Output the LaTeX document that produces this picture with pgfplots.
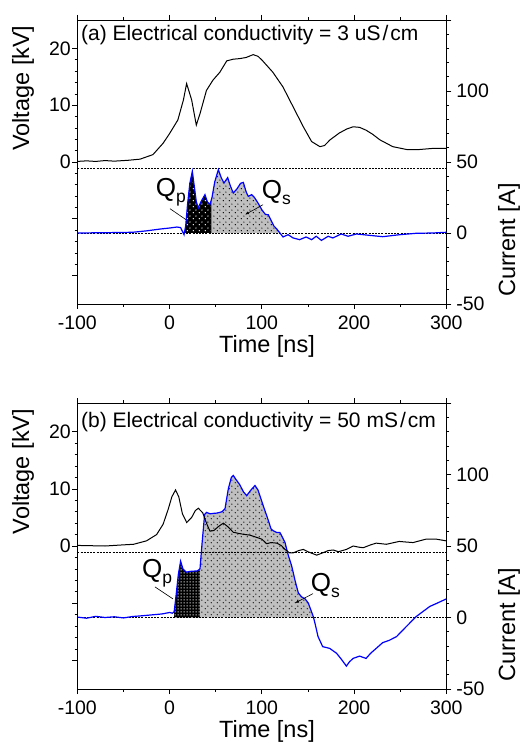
\documentclass[border=0pt]{standalone}
\usepackage{fontspec}
\setmainfont{Liberation Sans}
\usepackage{pgfplots}
\usepackage{pgfplotstable}
\pgfplotsset{compat=1.18}
\usepgfplotslibrary{fillbetween}
\usetikzlibrary{patterns.meta, arrows.meta}

% staggered dots (grey areas, panel a black area)
\tikzdeclarepattern{name=sdots, type=uncolored,
  bounding box={(0pt,0pt) and (6pt,6pt)}, tile size={(6pt,6pt)},
  code={\fill (1.5pt,1.5pt) circle (0.75pt); \fill (4.5pt,4.5pt) circle (0.75pt);}}
% dense square dots (panel b black area)
\tikzdeclarepattern{name=gdots, type=uncolored,
  bounding box={(0pt,0pt) and (3pt,3pt)}, tile size={(3pt,3pt)},
  code={\fill (0.8pt,0.8pt) rectangle (2.2pt,2.2pt);}}

% panel (a): voltage [kV] and current [A] vs time [ns]
\pgfplotstableread{
t v
-100 0.1
-90 0.2
-80 0.1
-70 0.25
-60 0.15
-45 0.3
-32 0.5
-18 1.3
-7 3.3
0 5.0
9 7.4
15 10.9
18.5 13.8
21 12.5
24 10.9
29 6.5
33 8.5
40 12.6
47 14.4
54.5 15.8
62 17.8
69 18.1
76 18.2
83 18.4
90.6 18.9
96 18.6
101 17.8
112 15.8
123 13.2
134 9.7
145 6.2
154 3.6
163 2.7
168 2.9
174 3.9
184 5.1
192 5.8
199 6.2
206 6.1
213 5.6
220 4.9
228 3.9
242 2.7
257 2.2
271 2.2
286 2.4
300 2.4
}\volA

\pgfplotstableread{
t i
-100 0
-70 0.2
-40 0.5
-25 1.5
-10 2.8
0 3.5
8 4.2
12 3.8
15.7 -1.2
17.5 5
19.5 20
22 35
24.7 43.4
27 32
29 22
31.2 17.6
34 22
38.4 27
41 22
43.8 20
46 25
49 36
52.9 44.6
56 39
59 35.2
63 39
66 33
69.1 28.2
73 31
77 35
80 35.6
83 29
85.4 25.8
89 27
92 25
96 21
100 16.4
104 13
107 12.9
110 9
113 5
116 3
119.7 0
123 -2.8
128.5 -1.2
134 -3.5
141 -4.7
148 -2.8
154 -4.7
159 -2.3
164.6 -5.2
172 -2.3
177 -3.5
186 -0.7
193.5 -2.3
202.5 -0.7
213 -1.4
231 -2.6
249.5 -1.2
267.5 -0.2
285.5 0
300 0.5
}\curA

% panel (b)
\pgfplotstableread{
t v
-100 0.1
-70 0.0
-50 0.2
-39 0.3
-25 0.9
-14 2.0
-7 3.8
-1.5 6.4
2.5 8.6
6.5 9.8
10 8.6
14 5.6
18.6 4.1
24 5.0
28 6.2
31.2 6.6
36 5.8
40 4.0
43.8 2.6
48 2.7
53 3.4
58.3 4.0
63 3.4
69.1 2.4
75 2.2
80 2.05
87 1.9
94.5 1.5
100 1.2
105.3 0.4
110 0.6
116.2 0.5
121 0.1
125.2 -0.6
130 -1.2
134 -1.2
140 -0.8
145 -0.6
150 -1.0
159.5 -1.6
166 -1.2
172 -0.8
177.5 -0.7
183 -1.0
191.7 -0.6
199 0
205 -0.2
210 -0.3
218 0.2
224 0.5
235 0.3
249 0.8
256 0.7
264 0.6
278 1.2
289 1.2
300 0.9
}\volB

\pgfplotstableread{
t i
-100 0.3
-90 -0.5
-80 0.8
-70 0
-60 0.5
-50 -0.3
-40 0.7
-30 1.2
-18 1.9
-8 2.5
0 3.5
3 3
5 4
7 15
9.5 30
12 39.4
14.5 34
18 31.7
24 32.4
30 32.5
33 34
35 50
38 72
40 73.5
44 72.5
47.3 72.8
51 73
54.5 73.5
57 74
60.1 76
63.7 90
67 98
69.1 99.3
72 96.5
76 93
80 88
83.6 85.2
88 89
92.6 92.3
96 89
101.6 78
106 70
110 62
112.5 60.6
116 59.5
119.7 59.4
125.2 52.4
128.5 44
132.4 36
136 26
139.6 17.2
143 14.5
147 13
150.4 10.1
155.8 0.7
158 -5
161 -13.4
166 -20.4
170 -21
173.6 -21.6
181 -25
186 -29
191.7 -34
195 -31
199 -28.6
206 -27
213 -28.6
218 -25
224 -21.6
231 -17.6
238 -16
246 -13.4
256.7 -6.3
267.5 0.7
282 7.7
290 10
300 13
}\curB

\pgfplotsset{
  base/.style={
    scale only axis, width=369pt, anchor=south west,
    xmin=-100, xmax=300,
    tick align=outside, major tick length=5pt, minor tick length=2.8pt,
    every tick/.style={black, line width=0.6pt},
    axis line style={line width=0.8pt},
    tick label style={font=\fontsize{19.5}{19.5}\selectfont},
    label style={font=\fontsize{23.5}{23.5}\selectfont},
    /pgf/number format/assume math mode=true,
  },
  vax/.style={base,
    ymin=-25, ymax=25,
    ytick={-20,-10,0,10,20}, yticklabels={,,0,10,20},
    minor y tick num=4,
    xtick={-100,0,100,200,300}, minor x tick num=1,
    axis y line*=left,
    yticklabel style={xshift=2pt},
    xticklabel style={yshift=-3.5pt},
    xlabel={Time [ns]}, ylabel={Voltage [kV]},
    ylabel style={at={(axis description cs:-0.147,0.76)}, anchor=center},
  },
  iax/.style={base,
    ymin=-50, ymax=150,
    ytick={-50,0,50,100,150}, yticklabels={-50,0,50,100,},
    minor y tick num=4,
    axis x line=none, axis y line*=right,
    yticklabel style={xshift=1.5pt},
    ylabel={Current [A]},
    ylabel style={at={(axis description cs:1.17,0.225)}, anchor=center},
  },
}
\tikzset{qlab/.style={anchor=base west, inner sep=0pt, font=\fontsize{26}{26}\selectfont}}
\newcommand{\sub}[1]{\raisebox{-6pt}{\fontsize{17.5}{17.5}\selectfont #1}}

\begin{document}
\begin{tikzpicture}

% ---------- panel (a) ----------
\begin{axis}[iax, at={(77.3pt,438pt)}, height=284pt]
  \addplot[draw=none, name path=za, forget plot] coordinates {(-100,0) (300,0)};
  \addplot[draw=none, name path=ia, forget plot] table {\curA};
  \addplot[fill=black, draw=none] fill between[of=ia and za, soft clip={domain=17:45.7}];
  \addplot[pattern=sdots, pattern color=white, draw=none] fill between[of=ia and za, soft clip={domain=17:45.7}];
  \addplot[fill=gray!50, draw=none] fill between[of=ia and za, soft clip={domain=45.7:119.7}];
  \addplot[pattern=sdots, pattern color=black, draw=none] fill between[of=ia and za, soft clip={domain=45.7:119.7}];
  \addplot[black, line width=0.5pt, dash pattern=on 2pt off 1.2pt] coordinates {(-100,0) (300,0)};
  \addplot[black, line width=0.5pt, dash pattern=on 2pt off 1.2pt] coordinates {(-100,45.5) (300,45.5)};
  \addplot[blue, line width=1.2pt] table {\curA};
  \node[qlab] at (axis cs:-15,25.8) {Q\sub{p}};
  \draw[line width=0.6pt] (axis cs:0.5,17.1) -- (axis cs:17.8,9.4);
  \node[qlab] at (axis cs:99.9,24.6) {Q\sub{s}};
  \draw[line width=0.6pt, -{Latex[length=4pt,width=3pt]}] (axis cs:101.3,19.9) -- (axis cs:81.8,12.9);
\end{axis}
\begin{axis}[vax, at={(77.3pt,438pt)}, height=284pt,
    xlabel style={at={(axis description cs:0.514,-0.151)}, anchor=center}]
  \addplot[black, line width=1pt] table {\volA};
  \node[anchor=west, inner sep=0pt, font=\fontsize{21}{21}\selectfont]
    at (axis description cs:0.01,0.947) {(a) Electrical conductivity = 3 uS\kern2pt/\kern2pt cm};
\end{axis}

% ---------- panel (b) ----------
\begin{axis}[iax, at={(77.3pt,53pt)}, height=286pt]
  \addplot[draw=none, name path=zb, forget plot] coordinates {(-100,0) (300,0)};
  \addplot[draw=none, name path=ib, forget plot] table {\curB};
  \addplot[fill=black, draw=none] fill between[of=ib and zb, soft clip={domain=5:33}];
  \addplot[pattern=gdots, pattern color=white, draw=none] fill between[of=ib and zb, soft clip={domain=5:33}];
  \addplot[fill=gray!50, draw=none] fill between[of=ib and zb, soft clip={domain=33:155.8}];
  \addplot[pattern=sdots, pattern color=black, draw=none] fill between[of=ib and zb, soft clip={domain=33:155.8}];
  \addplot[black, line width=0.5pt, dash pattern=on 2pt off 1.2pt] coordinates {(-100,0) (300,0)};
  \addplot[black, line width=0.5pt, dash pattern=on 2pt off 1.2pt] coordinates {(-100,45.5) (300,45.5)};
  \addplot[blue, line width=1.2pt] table {\curB};
  \node[qlab] at (axis cs:-30,27.7) {Q\sub{p}};
  \draw[line width=0.6pt] (axis cs:-15.8,21.4) -- (axis cs:3.7,13);
  \node[qlab] at (axis cs:153,18.3) {Q\sub{s}};
  \draw[line width=0.6pt, -{Latex[length=4pt,width=3pt]}] (axis cs:155.5,16.7) -- (axis cs:136,10.1);
\end{axis}
\begin{axis}[vax, at={(77.3pt,53pt)}, height=286pt,
    xlabel style={at={(axis description cs:0.514,-0.148)}, anchor=center}]
  \addplot[black, line width=1pt] table {\volB};
  \node[anchor=west, inner sep=0pt, font=\fontsize{21}{21}\selectfont]
    at (axis description cs:0.01,0.935) {(b) Electrical conductivity = 50 mS\kern2pt/\kern2pt cm};
\end{axis}

\pgfresetboundingbox
\path[use as bounding box] (0,0) rectangle (526pt,742pt);
\end{tikzpicture}
\end{document}
